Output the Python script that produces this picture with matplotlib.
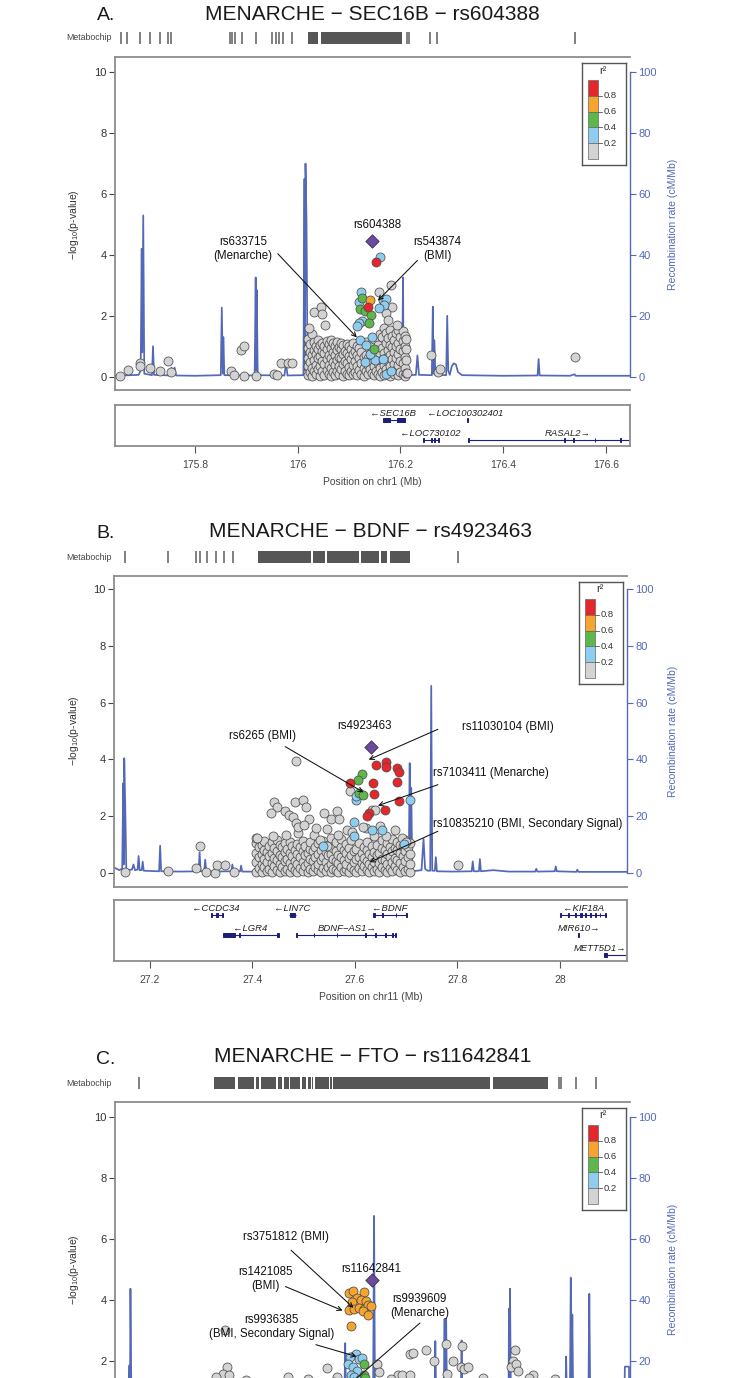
import matplotlib.pyplot as plt
from matplotlib.patches import Rectangle

plt.rcParams['font.family'] = ['Liberation Sans', 'DejaVu Sans']
plt.rcParams['mathtext.fontset'] = 'custom'
plt.rcParams['mathtext.rm'] = 'Liberation Sans'
plt.rcParams['mathtext.it'] = 'Liberation Sans:italic'

W, H = 733, 1378

# r2 classes 0-0.2 .. 0.8-1, and the lead SNP
ld_colors = ['#d3d3d3', '#8ecdef', '#5cb84a', '#f6a42d', '#e5262a']
ld_ticks = ['0.2', '0.4', '0.6', '0.8']
lead_color = '#6c4a9c'
recomb_color = '#5369b8'
gene_color = '#1c1f7a'

# ---------------------------------------------------------------- panel A
a_title = 'MENARCHE \u2212 SEC16B \u2212 rs604388'
a_xlim = (175.644, 176.647)
a_xticks = [175.8, 176.0, 176.2, 176.4, 176.6]
a_xticklabels = ['175.8', '176', '176.2', '176.4', '176.6']
a_chip_ticks = [175.655, 175.667, 175.693, 175.713, 175.732, 175.747, 175.753,
                175.868, 175.872, 175.877, 175.892, 175.918,
                175.950, 175.958, 175.964, 175.971, 175.989,
                176.212, 176.217, 176.258, 176.272, 176.539]
a_chip_blocks = [(176.020, 176.040), (176.045, 176.203)]
a_recomb = [(175.644, 0.3), (175.690, 0.6), (175.694, 2.0), (175.696, 42), (175.697, 8), (175.699, 53),
            (175.701, 1.0), (175.716, 0.5), (175.718, 10), (175.720, 0.6), (175.752, 0.4), (175.754, 3.0),
            (175.757, 0.5), (175.760, 3.0), (175.763, 0.4), (175.800, 0.3), (175.850, 0.5), (175.852, 22.7),
            (175.854, 1.0), (175.855, 13), (175.857, 0.5), (175.916, 0.4), (175.918, 32.6), (175.919, 2.0),
            (175.920, 28.5), (175.922, 0.5), (175.974, 0.4), (175.977, 4.4), (175.980, 0.4), (176.011, 0.5),
            (176.013, 65), (176.014, 2), (176.015, 70), (176.017, 51), (176.019, 0.5), (176.203, 0.5),
            (176.205, 32.6), (176.206, 2), (176.207, 16), (176.209, 0.5), (176.230, 0.6), (176.233, 7),
            (176.236, 0.6), (176.261, 0.5), (176.263, 23), (176.264, 1.0), (176.266, 12), (176.268, 0.6),
            (176.289, 0.5), (176.291, 20), (176.293, 2.0), (176.296, 0.6), (176.300, 3.5), (176.304, 4.4),
            (176.308, 4.0), (176.312, 1.5), (176.320, 0.5), (176.400, 0.3), (176.467, 0.4), (176.469, 5.8),
            (176.471, 0.4), (176.530, 0.3), (176.539, 0.8), (176.541, 0.3), (176.647, 0.3)]
a_grey_cols = [(176.020, [0.05, 0.35, 0.62, 0.95, 1.25]), (176.024, [0.15, 0.48, 0.80, 1.08]),
               (176.028, [0.02, 0.30, 0.70, 1.40]), (176.032, [0.20, 0.55, 0.88, 1.15]),
               (176.036, [0.08, 0.40, 0.75, 1.02]), (176.040, [0.25, 0.60, 0.92, 1.20]),
               (176.044, [0.03, 0.35, 0.68, 1.05]), (176.048, [0.18, 0.50, 0.85, 1.12]),
               (176.052, [0.06, 0.42, 0.78, 1.00]), (176.056, [0.22, 0.58, 0.90, 1.18]),
               (176.060, [0.10, 0.38, 0.72, 1.08]), (176.064, [0.02, 0.30, 0.62, 0.95, 1.22]),
               (176.068, [0.15, 0.48, 0.82, 1.10]), (176.072, [0.05, 0.40, 0.70, 1.02]),
               (176.076, [0.20, 0.55, 0.88, 1.15]), (176.080, [0.08, 0.35, 0.66, 0.98]),
               (176.084, [0.25, 0.60, 0.92, 1.12]), (176.088, [0.03, 0.42, 0.75, 1.05]),
               (176.092, [0.18, 0.50, 0.85]), (176.096, [0.10, 0.45, 0.78, 1.08]),
               (176.100, [0.04, 0.32, 0.68, 1.00]), (176.104, [0.20, 0.58, 0.90]),
               (176.108, [0.08, 0.40, 0.74, 1.10]), (176.112, [0.15, 0.52, 0.86]),
               (176.116, [0.05, 0.36, 0.70, 1.02]), (176.120, [0.22, 0.60, 0.95]),
               (176.124, [0.10, 0.45, 0.80]), (176.128, [0.03, 0.30, 0.66]),
               (176.132, [0.18, 0.72, 1.15]), (176.136, [0.08, 0.40, 0.62]),
               (176.140, [0.25, 0.52, 1.02]), (176.144, [0.12, 0.70, 1.10]),
               (176.148, [0.04, 0.35, 1.25]), (176.152, [0.20, 0.60, 0.82]),
               (176.156, [0.10, 0.45, 1.05]), (176.160, [0.02, 0.30, 0.75, 1.40]),
               (176.164, [0.16, 0.55, 0.95, 1.30]), (176.168, [0.06, 0.40, 0.78, 1.60]),
               (176.172, [0.24, 0.62, 1.10, 1.45]), (176.176, [0.12, 0.50, 0.88, 1.28]),
               (176.180, [0.03, 0.35, 0.70, 1.05, 1.52]), (176.184, [0.18, 0.58, 0.96, 1.35]),
               (176.188, [0.08, 0.42, 0.80, 1.20]), (176.192, [0.22, 0.62, 1.00, 1.42]),
               (176.196, [0.05, 0.38, 0.75, 1.12, 1.55]), (176.200, [0.15, 0.52, 0.90, 1.30]),
               (176.204, [0.08, 0.45, 0.85, 1.18, 1.50]), (176.208, [0.02, 0.30, 0.65, 1.00, 1.35]),
               (176.210, [0.12, 0.55, 0.92, 1.25])]
a_grey = [(175.653, 0.02), (175.670, 0.22), (175.693, 0.44), (175.693, 0.36), (175.712, 0.27),
          (175.732, 0.20), (175.747, 0.52), (175.754, 0.16), (175.869, 0.20), (175.876, 0.05),
          (175.890, 0.88), (175.895, 1.02), (175.895, 0.02), (175.918, 0.02), (175.954, 0.09),
          (175.960, 0.05), (175.968, 0.46), (175.980, 0.44), (175.989, 0.46), (176.213, 0.11),
          (176.259, 0.71), (176.273, 0.16), (176.276, 0.25), (176.539, 0.64),
          (176.159, 2.77), (176.182, 3.02), (176.184, 2.30), (176.172, 2.08), (176.175, 1.86),
          (176.193, 1.70), (176.022, 1.59), (176.032, 2.11), (176.046, 2.30), (176.048, 2.05),
          (176.053, 1.70)]
a_blue = [(176.160, 3.93), (176.123, 2.77), (176.119, 2.45), (176.165, 2.52), (176.172, 2.54),
          (176.168, 2.36), (176.158, 2.25), (176.126, 1.84), (176.119, 1.75), (176.115, 1.68),
          (176.121, 1.21), (176.144, 1.32), (176.133, 1.04), (176.130, 0.49), (176.151, 0.55),
          (176.165, 0.57), (176.172, 0.09), (176.182, 0.20), (176.140, 0.75)]
a_green = [(176.126, 2.58), (176.121, 2.21), (176.130, 2.17), (176.142, 2.03), (176.138, 1.75),
           (176.149, 0.90)]
a_orange = [(176.140, 2.52)]
a_red = [(176.152, 3.76), (176.136, 2.28)]
a_lead = (176.145, 4.47)
# label, text position, arrow start, arrow end
a_notes = [('rs604388', (176.154, 4.99), None, None),
           ('rs633715\n(Menarche)', (175.893, 4.19), (175.961, 4.04), (176.115, 1.29)),
           ('rs543874\n(BMI)', (176.271, 4.19), (176.233, 3.82), (176.156, 2.50))]
# name, start, end, strand, row, label x, exons
a_genes = [('SEC16B', 176.165, 176.208, '-', 0, 176.186, [(176.165, 176.180), (176.194, 176.208)]),
           ('LOC100302401', 176.329, 176.331, '-', 0, 176.326, [(176.329, 176.331)]),
           ('LOC730102', 176.243, 176.275, '-', 1, 176.257,
            [(176.243, 176.245), (176.259, 176.262), (176.266, 176.268), (176.273, 176.275)]),
           ('RASAL2', 176.332, 176.700, '+', 1, 176.525,
            [(176.332, 176.333), (176.519, 176.520), (176.536, 176.537), (176.578, 176.579),
             (176.628, 176.629)])]

# ---------------------------------------------------------------- panel B
b_title = 'MENARCHE \u2212 BDNF \u2212 rs4923463'
b_xlim = (27.130, 28.131)
b_xticks = [27.2, 27.4, 27.6, 27.8, 28.0]
b_xticklabels = ['27.2', '27.4', '27.6', '27.8', '28']
b_chip_ticks = [27.151, 27.235, 27.290, 27.298, 27.312, 27.329, 27.345, 27.362, 27.802]
b_chip_blocks = [(27.411, 27.515), (27.519, 27.542), (27.546, 27.609), (27.612, 27.648),
                 (27.651, 27.663), (27.669, 27.708)]
b_recomb = [(27.130, 2.0), (27.140, 1.0), (27.146, 1.5), (27.148, 31.6), (27.149, 3), (27.150, 40.4),
            (27.152, 23), (27.154, 1.0), (27.165, 1.2), (27.168, 3.0), (27.171, 1.0), (27.176, 1.2),
            (27.178, 6.0), (27.180, 1.0), (27.184, 1.0), (27.186, 4.0), (27.188, 0.8), (27.218, 0.6),
            (27.220, 9.6), (27.222, 0.6), (27.260, 0.5), (27.295, 0.6), (27.297, 7.3), (27.299, 0.6),
            (27.306, 0.6), (27.308, 4.7), (27.310, 0.5), (27.359, 0.6), (27.361, 3.0), (27.363, 0.5),
            (27.376, 0.6), (27.378, 2.6), (27.380, 0.5), (27.500, 0.4), (27.700, 0.5), (27.705, 1.0),
            (27.707, 38.7), (27.708, 2.0), (27.710, 30), (27.712, 0.6), (27.730, 1.0), (27.734, 12),
            (27.737, 1.5), (27.742, 0.8), (27.747, 0.8), (27.749, 65.9), (27.751, 0.8), (27.756, 0.8),
            (27.758, 5.6), (27.760, 0.6), (27.790, 0.5), (27.828, 0.6), (27.830, 4.1), (27.832, 0.6),
            (27.842, 0.6), (27.844, 4.9), (27.846, 0.6), (27.870, 1.0), (27.900, 0.5), (27.952, 0.5),
            (27.954, 1.5), (27.956, 0.5), (27.990, 0.6), (27.992, 2.3), (27.994, 0.6), (28.032, 0.4),
            (28.034, 1.2), (28.036, 0.4), (28.131, 0.4)]
b_grey_cols = [(27.408, [0.05, 0.38, 0.72, 1.05, 1.25]), (27.413, [0.18, 0.55, 0.90]),
               (27.418, [0.02, 0.30, 0.66, 1.00]), (27.423, [0.22, 0.48, 0.82, 1.12]),
               (27.428, [0.08, 0.40, 0.75]), (27.433, [0.15, 0.60, 0.95]),
               (27.438, [0.03, 0.35, 0.70, 1.08]), (27.443, [0.25, 0.52, 0.88]),
               (27.448, [0.10, 0.45, 0.78, 1.15]), (27.453, [0.04, 0.32, 0.65, 0.98]),
               (27.458, [0.20, 0.58, 0.92]), (27.463, [0.08, 0.42, 0.74, 1.05]),
               (27.468, [0.15, 0.50, 0.85]), (27.473, [0.02, 0.36, 0.70, 1.10]),
               (27.478, [0.22, 0.60, 0.96]), (27.483, [0.10, 0.44, 0.80]),
               (27.488, [0.05, 0.30, 0.66, 1.02]), (27.493, [0.18, 0.55, 0.90]),
               (27.498, [0.08, 0.40, 0.76, 1.12]), (27.503, [0.25, 0.62, 0.95]),
               (27.508, [0.03, 0.35, 0.70]), (27.513, [0.15, 0.50, 0.86, 1.08]),
               (27.518, [0.06, 0.42, 0.78]), (27.523, [0.20, 0.58, 0.92]),
               (27.528, [0.10, 0.32, 0.68, 1.05]), (27.533, [0.02, 0.45, 0.82]),
               (27.538, [0.18, 0.55, 1.12]), (27.543, [0.08, 0.38, 0.74]),
               (27.548, [0.22, 0.62, 0.98]), (27.553, [0.05, 0.30, 0.68, 1.25]),
               (27.558, [0.15, 0.50, 0.88]), (27.563, [0.10, 0.42, 0.78, 1.08]),
               (27.568, [0.02, 0.35, 0.65]), (27.573, [0.20, 0.56, 0.92, 1.20]),
               (27.578, [0.08, 0.45, 0.80]), (27.583, [0.15, 0.32, 0.70, 1.02]),
               (27.588, [0.04, 0.52, 0.88]), (27.593, [0.22, 0.62, 1.15]),
               (27.598, [0.10, 0.38, 0.76]), (27.603, [0.02, 0.48, 0.85]),
               (27.608, [0.18, 0.58, 1.05]), (27.613, [0.06, 0.35, 0.72]),
               (27.618, [0.25, 0.52, 0.90]), (27.623, [0.12, 0.42, 0.80, 1.10]),
               (27.628, [0.03, 0.30, 0.66]), (27.633, [0.20, 0.55, 0.95]),
               (27.638, [0.08, 0.40, 0.75, 1.30]), (27.643, [0.15, 0.62, 0.98]),
               (27.648, [0.05, 0.35, 0.70]), (27.653, [0.22, 0.50, 0.88, 1.15]),
               (27.658, [0.10, 0.45, 0.80]), (27.663, [0.02, 0.32, 0.68, 1.05]),
               (27.668, [0.18, 0.58, 0.92]), (27.673, [0.08, 0.40, 0.76, 1.20]),
               (27.678, [0.25, 0.52, 0.88]), (27.683, [0.12, 0.45, 0.82, 1.10]),
               (27.688, [0.04, 0.35, 0.70, 1.00]), (27.693, [0.20, 0.60, 0.95]),
               (27.698, [0.08, 0.42, 0.78, 1.15]), (27.703, [0.15, 0.55, 0.90]),
               (27.708, [0.02, 0.30, 0.66, 1.05])]
b_grey = [(27.486, 3.96), (27.591, 2.87), (27.633, 2.23), (27.640, 2.23), (27.442, 2.49), (27.448, 2.32),
          (27.437, 2.11), (27.463, 2.20), (27.483, 2.50), (27.498, 2.58), (27.504, 2.32), (27.471, 2.05),
          (27.479, 1.97), (27.486, 1.76), (27.511, 1.90), (27.539, 2.11), (27.565, 2.20), (27.553, 1.90),
          (27.570, 1.90), (27.410, 1.23), (27.441, 1.29), (27.465, 1.35), (27.490, 1.41), (27.521, 1.35),
          (27.532, 1.15), (27.546, 0.94), (27.567, 1.35), (27.584, 1.52), (27.622, 1.58), (27.678, 1.50),
          (27.692, 1.23), (27.595, 1.45), (27.660, 1.30), (27.700, 1.10), (27.525, 1.60), (27.545, 1.55),
          (27.615, 1.62), (27.650, 1.65), (27.490, 1.62), (27.500, 1.70),
          (27.151, 0.02), (27.235, 0.06), (27.290, 0.18), (27.297, 0.94), (27.310, 0.02), (27.328, 0.00),
          (27.331, 0.29), (27.347, 0.29), (27.364, 0.02), (27.802, 0.29)]
b_blue = [(27.603, 2.58), (27.603, 2.70), (27.708, 2.58), (27.598, 1.78), (27.633, 1.50), (27.652, 1.52),
          (27.598, 1.29), (27.537, 0.94), (27.695, 1.03)]
b_green = [(27.614, 3.49), (27.606, 3.28), (27.608, 2.81), (27.615, 2.75)]
b_orange = []
b_red = [(27.642, 3.81), (27.661, 3.90), (27.661, 3.75), (27.682, 3.69), (27.687, 3.55), (27.591, 3.17),
         (27.636, 3.17), (27.683, 3.22), (27.638, 2.79), (27.687, 2.52), (27.658, 2.23), (27.627, 2.11),
         (27.624, 1.99)]
b_lead = (27.631, 4.45)
b_notes = [('rs4923463', (27.619, 5.16), None, None),
           ('rs6265 (BMI)', (27.420, 4.84), (27.464, 4.45), (27.617, 2.84)),
           ('rs11030104 (BMI)', (27.898, 5.13), (27.762, 5.06), (27.627, 3.99)),
           ('rs7103411 (Menarche)', (27.866, 3.52), (27.762, 3.11), (27.645, 2.37)),
           ('rs10835210 (BMI, Secondary Signal)', (27.938, 1.74), (27.762, 1.47), (27.629, 0.38))]
b_genes = [('CCDC34', 27.319, 27.343, '-', 0, 27.329, [(27.319, 27.321), (27.330, 27.332), (27.341, 27.343)]),
           ('LIN7C', 27.472, 27.485, '-', 0, 27.478, [(27.473, 27.484)]),
           ('BDNF', 27.635, 27.701, '-', 0, 27.668,
            [(27.635, 27.640), (27.653, 27.654), (27.680, 27.681), (27.699, 27.701)]),
           ('KIF18A', 28.000, 28.090, '-', 0, 28.047,
            [(28.000, 28.002), (28.016, 28.017), (28.030, 28.031), (28.039, 28.044), (28.050, 28.051),
             (28.059, 28.060), (28.069, 28.070), (28.078, 28.079), (28.088, 28.090)]),
           ('LGR4', 27.343, 27.451, '-', 1, 27.396, [(27.343, 27.366), (27.374, 27.375), (27.449, 27.451)]),
           ('BDNF\u2212AS1', 27.486, 27.680, '+', 1, 27.584,
            [(27.486, 27.487), (27.520, 27.521), (27.565, 27.566), (27.620, 27.621), (27.640, 27.641),
             (27.659, 27.660), (27.673, 27.674), (27.678, 27.680)]),
           ('MIR610', 28.036, 28.037, '+', 1, 28.037, [(28.036, 28.037)]),
           ('METT5D1', 28.087, 28.200, '+', 2, 28.078, [(28.087, 28.091)])]

# ---------------------------------------------------------------- panel C
c_title = 'MENARCHE \u2212 FTO \u2212 rs11642841'
c_xlim = (53.345, 54.345)
c_chip_ticks = [53.392, 54.207, 54.211, 54.240, 54.279]
c_chip_blocks = [(53.537, 53.578), (53.583, 53.615), (53.619, 53.625), (53.629, 53.658), (53.662, 53.670),
                 (53.673, 53.682), (53.685, 53.704), (53.708, 53.716), (53.720, 53.725), (53.727, 53.729),
                 (53.733, 53.760), (53.762, 53.766), (53.768, 54.073), (54.079, 54.186)]
c_recomb = [(53.345, 3), (53.371, 3), (53.373, 18.4), (53.374, 3), (53.375, 43.6), (53.377, 3),
            (53.790, 3), (53.792, 25.7), (53.794, 3), (53.846, 3), (53.848, 67.5), (53.850, 3),
            (53.965, 3), (53.967, 26.4), (53.969, 3), (53.983, 3), (53.985, 33.7), (53.986, 5),
            (53.988, 33.7), (53.990, 3), (54.016, 3), (54.018, 26.6), (54.020, 3), (54.109, 3),
            (54.110, 37), (54.111, 5), (54.112, 43.6), (54.114, 3), (54.219, 3), (54.221, 21.3),
            (54.223, 3), (54.228, 3), (54.230, 47.2), (54.231, 5), (54.233, 35.1), (54.235, 3),
            (54.264, 3), (54.266, 41.9), (54.268, 3), (54.334, 3), (54.335, 18), (54.343, 18),
            (54.344, 3), (54.345, 3)]
c_grey_cols = []
c_grey = [(53.559, 3.01), (53.562, 1.80), (53.555, 1.56), (53.566, 1.51), (53.756, 1.76), (53.918, 2.20),
          (53.923, 2.24), (53.948, 2.33), (53.964, 1.98), (53.987, 2.53), (54.018, 2.49), (54.002, 1.98),
          (54.016, 1.80), (54.022, 1.73), (54.030, 1.78), (54.122, 2.35), (54.117, 2.00), (54.113, 1.78),
          (54.124, 1.89), (54.127, 1.67), (54.156, 1.51), (53.990, 1.56), (53.853, 1.89), (53.857, 1.62),
          (53.541, 1.45), (53.680, 1.45), (53.777, 1.45), (53.895, 1.53), (53.902, 1.51), (53.918, 1.54),
          (54.148, 1.43), (53.600, 1.35), (53.720, 1.38), (53.880, 1.40), (54.060, 1.42), (54.200, 1.38),
          (53.770, 1.30)]
c_blue = [(53.812, 2.22), (53.801, 2.13), (53.819, 2.05), (53.824, 2.09), (53.798, 1.89), (53.807, 1.78),
          (53.815, 1.67), (53.803, 1.54), (53.810, 1.45), (53.820, 1.40)]
c_green = [(53.829, 1.87), (53.828, 1.54), (53.830, 1.42)]
c_orange = [(53.800, 4.21), (53.808, 4.28), (53.829, 4.25), (53.814, 4.06), (53.805, 3.92), (53.822, 4.00),
            (53.833, 3.95), (53.800, 3.67), (53.810, 3.70), (53.819, 3.73), (53.828, 3.70), (53.836, 3.81),
            (53.843, 3.79), (53.826, 3.62), (53.836, 3.50), (53.803, 3.12)]
c_red = []
c_lead = (53.844, 4.66)
c_notes = [('rs11642841', (53.843, 5.01), None, None),
           ('rs3751812 (BMI)', (53.676, 6.05), (53.687, 5.62), (53.808, 3.73)),
           ('rs1421085\n(BMI)', (53.637, 4.68), (53.676, 4.43), (53.787, 3.64)),
           ('rs9939609\n(Menarche)', (53.937, 3.79), (53.937, 3.23), (53.803, 1.25)),
           ('rs9936385\n(BMI, Secondary Signal)', (53.649, 3.10), (53.735, 2.52), (53.814, 2.13))]

# pixel layout of the three panels
lay_a = dict(left=115, right=630, top=57, bottom=390, y0=376.7, y10=72.3, title_y=14, chip=(32, 44),
             gene=(405, 446))
lay_b = dict(left=114, right=627, top=576, bottom=887, y0=873, y10=589, title_y=531, chip=(551, 563),
             gene=(900, 961))
lay_c = dict(left=115, right=630, top=1102, bottom=1445, y0=1421.4, y10=1117, title_y=1057, chip=(1077, 1089),
             gene=None)


def px_axes(fig, x0, y0, x1, y1):
    return fig.add_axes([x0 / W, 1 - y1 / H, (x1 - x0) / W, (y1 - y0) / H])


def draw_panel(fig, lay, letter, title, xlim, chip_ticks, chip_blocks, recomb, grey_cols, grey,
               blue, green, orange, red, lead, notes, genes=None, xticks=None, xticklabels=None, xlabel=None):
    L, R, T, B = lay['left'], lay['right'], lay['top'], lay['bottom']
    ppu = (lay['y0'] - lay['y10']) / 10.0
    ylim = (-(B - lay['y0']) / ppu, 10 + (lay['y10'] - T) / ppu)

    fig.text((L + R) / 2 / W, 1 - lay['title_y'] / H, title, ha='center', va='center',
             fontsize=15, color='#1a1a1a')
    fig.text(106 / W, 1 - (lay['title_y'] + 2) / H, letter, ha='center', va='center',
             fontsize=14, color='#1a1a1a')

    # metabochip coverage track
    cax = px_axes(fig, L, lay['chip'][0], R, lay['chip'][1])
    cax.set_xlim(xlim)
    cax.set_ylim(0, 1)
    cax.axis('off')
    cax.vlines(chip_ticks, 0, 1, color='#5e5e5e', lw=1.1)
    cax.broken_barh([(a, b - a) for a, b in chip_blocks], (0, 1), facecolor='#565656', edgecolor='none')
    fig.text(112 / W, 1 - (sum(lay['chip']) / 2) / H, 'Metabochip', ha='right', va='center',
             fontsize=6.3, color='#444444')

    # main association plot, recombination on a twin axis below the points
    ax = px_axes(fig, L, T, R, B)
    ax2 = ax.twinx()
    ax.set_zorder(ax2.get_zorder() + 1)
    ax.patch.set_visible(False)
    for a in (ax, ax2):
        a.set_xlim(xlim)
    ax.set_ylim(ylim)
    ax2.set_ylim(ylim[0] * 10, ylim[1] * 10)

    rx, ry = zip(*recomb)
    ax2.plot(rx, ry, color=recomb_color, lw=1.25, zorder=1)

    gx, gy = [], []
    for x, col in grey_cols:
        for y in col:
            gx.append(x)
            gy.append(y)
    for x, y in grey:
        gx.append(x)
        gy.append(y)
    groups = [(gx, gy, ld_colors[0])]
    for pts, col in ((blue, ld_colors[1]), (green, ld_colors[2]), (orange, ld_colors[3]), (red, ld_colors[4])):
        if pts:
            xs, ys = zip(*pts)
            groups.append((xs, ys, col))
    for xs, ys, col in groups:
        ax.scatter(xs, ys, s=42, c=col, edgecolors='#4d4d4d', linewidths=0.55, zorder=3)
    ax.scatter([lead[0]], [lead[1]], s=46, marker='D', c=lead_color, edgecolors='#3a2a55',
               linewidths=0.6, zorder=4)

    for text, txy, start, end in notes:
        ax.text(txy[0], txy[1], text, ha='center', va='center', fontsize=8.3, color='#111111',
                linespacing=1.15, zorder=5)
        if start is not None:
            ax.annotate('', xy=end, xytext=start, zorder=5,
                        arrowprops=dict(arrowstyle='->', color='#111111', lw=0.75,
                                        shrinkA=0, shrinkB=0, mutation_scale=8))

    for side in ('left', 'top', 'bottom'):
        ax.spines[side].set_color('#8c8c8c')
        ax.spines[side].set_linewidth(1.3)
    ax.spines['right'].set_visible(False)
    for side in ('left', 'top', 'bottom'):
        ax2.spines[side].set_visible(False)
    ax2.spines['right'].set_color(recomb_color)
    ax2.spines['right'].set_linewidth(1.0)
    ax2.spines['right'].set_bounds(0, 100)

    # ticks that would fall below the bottom edge of the page are left out
    lo = 0 if B <= H else 2
    ax.set_xticks([])
    ax.set_yticks([v for v in range(lo, 11, 2)])
    ax.tick_params(axis='y', length=4, width=0.8, color='#444444', labelcolor='#333333',
                   labelsize=8, pad=2)
    ax2.set_yticks([v * 10 for v in range(lo, 11, 2)])
    ax2.tick_params(axis='y', length=4, width=0.8, color=recomb_color, labelcolor=recomb_color,
                    labelsize=8, pad=2)

    yfrac = (5 - ylim[0]) / (ylim[1] - ylim[0])
    ax.set_ylabel('\u2212log$_{10}$(p-value)', fontsize=7.5, color='#333333')
    ax.yaxis.set_label_coords((81 - L) / (R - L), yfrac)
    ax2.set_ylabel('Recombination rate (cM/Mb)', fontsize=7.5, color=recomb_color)
    ax2.yaxis.set_label_coords((668 - L) / (R - L), yfrac)

    # r2 legend
    lax = px_axes(fig, R - 48, T + 6, R - 4, T + 108)
    lax.set_xlim(0, 44)
    lax.set_ylim(102, 0)
    lax.set_xticks([])
    lax.set_yticks([])
    for s in lax.spines.values():
        s.set_color('#555555')
        s.set_linewidth(1.0)
    lax.patch.set_facecolor('white')
    bh = 15.8
    for i, col in enumerate(ld_colors[::-1]):
        lax.add_patch(Rectangle((6, 17 + i * bh), 10, bh, facecolor=col, edgecolor='#666666', lw=0.5))
    for i, lab in enumerate(ld_ticks[::-1]):
        yb = 17 + (i + 1) * bh
        lax.plot([16, 20], [yb, yb], color='#555555', lw=0.6)
        lax.text(21.5, yb, lab, fontsize=6.8, color='#333333', va='center', ha='left')
    lax.text(21, 7.5, 'r\u00b2', fontsize=8, color='#333333', ha='center', va='center')

    # gene track
    if genes:
        gax = px_axes(fig, L, lay['gene'][0], R, lay['gene'][1])
        gh = lay['gene'][1] - lay['gene'][0]
        gax.set_xlim(xlim)
        gax.set_ylim(gh, 0)
        for name, start, end, strand, row, lab_x, exons in genes:
            yl = 15 + 20 * row
            gax.plot([start, end], [yl, yl], color=gene_color, lw=0.8, solid_capstyle='butt')
            for a, b in exons:
                gax.add_patch(Rectangle((a, yl - 2.3), b - a, 4.6, facecolor=gene_color,
                                        edgecolor=gene_color, lw=0.7))
            label = '\u2190' + name if strand == '-' else name + '\u2192'
            gax.text(lab_x, yl - 6.5, label, ha='center', va='center', fontsize=6.8,
                     style='italic', color='#222222')
        for s in gax.spines.values():
            s.set_color('#8c8c8c')
            s.set_linewidth(1.3)
        gax.set_yticks([])
        gax.set_xticks(xticks)
        gax.set_xticklabels(xticklabels)
        gax.tick_params(axis='x', length=5, width=0.8, color='#555555', labelcolor='#444444',
                        labelsize=7.5, pad=5)
        gax.set_xlabel(xlabel, fontsize=7.5, color='#444444', labelpad=5)


fig = plt.figure(figsize=(W / 100, H / 100), dpi=100)

draw_panel(fig, lay_a, 'A.', a_title, a_xlim, a_chip_ticks, a_chip_blocks, a_recomb, a_grey_cols, a_grey,
           a_blue, a_green, a_orange, a_red, a_lead, a_notes, a_genes, a_xticks, a_xticklabels,
           'Position on chr1 (Mb)')
draw_panel(fig, lay_b, 'B.', b_title, b_xlim, b_chip_ticks, b_chip_blocks, b_recomb, b_grey_cols, b_grey,
           b_blue, b_green, b_orange, b_red, b_lead, b_notes, b_genes, b_xticks, b_xticklabels,
           'Position on chr11 (Mb)')
draw_panel(fig, lay_c, 'C.', c_title, c_xlim, c_chip_ticks, c_chip_blocks, c_recomb, c_grey_cols, c_grey,
           c_blue, c_green, c_orange, c_red, c_lead, c_notes)

fig.savefig('out.png', dpi=100)
